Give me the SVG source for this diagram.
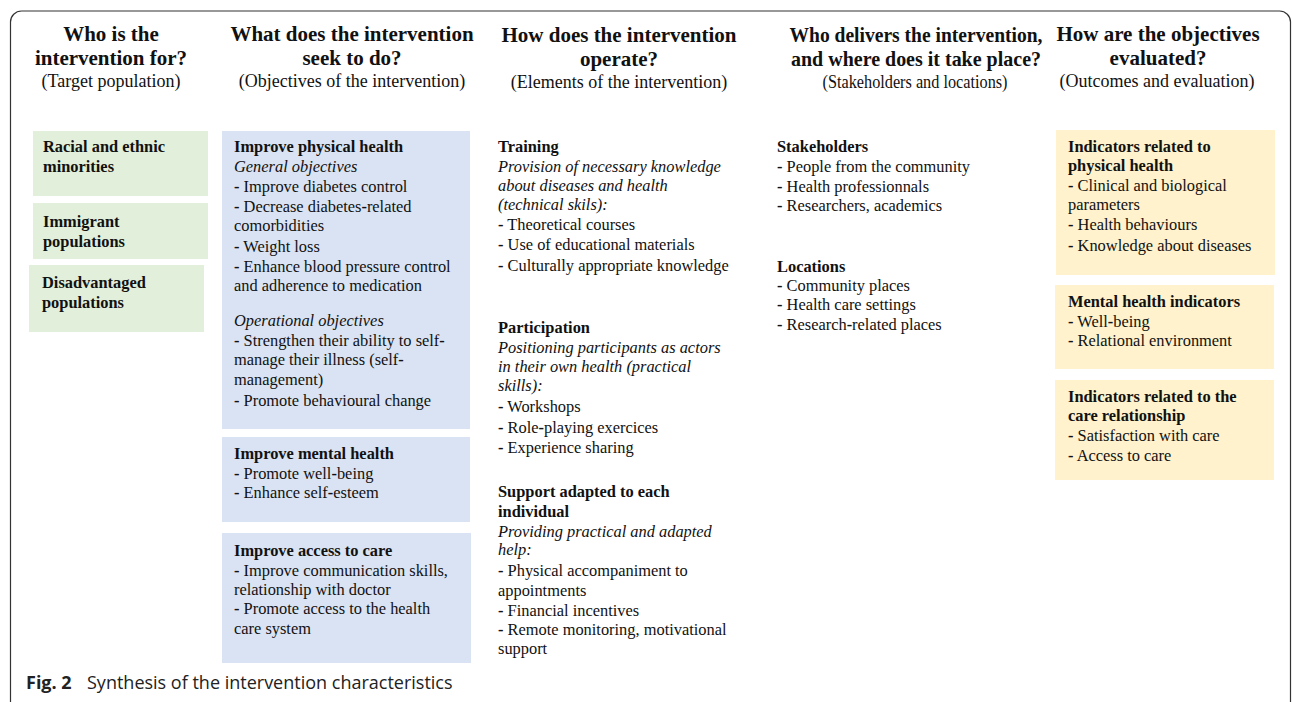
<svg xmlns="http://www.w3.org/2000/svg" width="1292" height="702" viewBox="0 0 1292 702">
<style>
  text { font-family: "Liberation Serif", "Times New Roman", serif; fill: #111; }
  .h { font-size: 21px; font-weight: bold; text-anchor: middle; }
  .s { font-size: 18px; text-anchor: middle; }
  .t { font-size: 16.4px; }
  .b { font-weight: bold; }
  .i { font-style: italic; }
  .green { fill: #e2efda; }
  .blue { fill: #dae3f3; }
  .yellow { fill: #fff2cc; }
  .cap { font-family: "Open Sans", "Noto Sans", sans-serif; font-size: 18px; fill: #222; }
</style>
<rect x="10.5" y="11" width="1280" height="720" rx="11" fill="none" stroke="#333" stroke-width="1.2"/>

<g id="headers">
  <text class="h" x="111" y="41">Who is the</text>
  <text class="h" x="111" y="65">intervention for?</text>
  <text class="s" x="111" y="87">(Target population)</text>
  <text class="h" x="352" y="41">What does the intervention</text>
  <text class="h" x="352" y="65">seek to do?</text>
  <text class="s" x="352" y="87">(Objectives of the intervention)</text>
  <text class="h" x="619" y="42">How does the intervention</text>
  <text class="h" x="619" y="66">operate?</text>
  <text class="s" x="619" y="88">(Elements of the intervention)</text>
  <text class="h" x="916" y="42" textLength="253" lengthAdjust="spacingAndGlyphs">Who delivers the intervention,</text>
  <text class="h" x="916" y="66" textLength="250" lengthAdjust="spacingAndGlyphs">and where does it take place?</text>
  <text class="s" x="915" y="88" textLength="185" lengthAdjust="spacingAndGlyphs">(Stakeholders and locations)</text>
  <text class="h" x="1158" y="41">How are the objectives</text>
  <text class="h" x="1158" y="65">evaluated?</text>
  <text class="s" x="1157" y="87">(Outcomes and evaluation)</text>
</g>

<g id="target-racial">
  <rect class="green" x="33" y="131" width="175" height="65"/>
  <text class="t b" x="43" y="152">Racial and ethnic</text>
  <text class="t b" x="43" y="172">minorities</text>
</g>
<g id="target-immigrant">
  <rect class="green" x="33" y="203" width="175" height="56"/>
  <text class="t b" x="43" y="227">Immigrant</text>
  <text class="t b" x="43" y="247">populations</text>
</g>
<g id="target-disadvantaged">
  <rect class="green" x="29" y="265" width="175" height="67"/>
  <text class="t b" x="42" y="288">Disadvantaged</text>
  <text class="t b" x="42" y="308">populations</text>
</g>

<g id="objective-physical">
  <rect class="blue" x="222" y="131" width="248" height="298"/>
  <text class="t b" x="234" y="152">Improve physical health</text>
  <text class="t i" x="234" y="172">General objectives</text>
  <text class="t" x="234" y="192"><tspan class="b">-</tspan> Improve diabetes control</text>
  <text class="t" x="234" y="212"><tspan class="b">-</tspan> Decrease diabetes<tspan class="b">-</tspan>related</text>
  <text class="t" x="234" y="231">comorbidities</text>
  <text class="t" x="234" y="252"><tspan class="b">-</tspan> Weight loss</text>
  <text class="t" x="234" y="272"><tspan class="b">-</tspan> Enhance blood pressure control</text>
  <text class="t" x="234" y="291">and adherence to medication</text>
  <text class="t i" x="234" y="326">Operational objectives</text>
  <text class="t" x="234" y="346"><tspan class="b">-</tspan> Strengthen their ability to self<tspan class="b">-</tspan></text>
  <text class="t" x="234" y="365">manage their illness (self<tspan class="b">-</tspan></text>
  <text class="t" x="234" y="385">management)</text>
  <text class="t" x="234" y="406"><tspan class="b">-</tspan> Promote behavioural change</text>
</g>
<g id="objective-mental">
  <rect class="blue" x="222" y="437" width="248" height="85"/>
  <text class="t b" x="234" y="459">Improve mental health</text>
  <text class="t" x="234" y="479"><tspan class="b">-</tspan> Promote well<tspan class="b">-</tspan>being</text>
  <text class="t" x="234" y="498"><tspan class="b">-</tspan> Enhance self<tspan class="b">-</tspan>esteem</text>
</g>
<g id="objective-access">
  <rect class="blue" x="222" y="533" width="249" height="130"/>
  <text class="t b" x="234" y="556">Improve access to care</text>
  <text class="t" x="234" y="576"><tspan class="b">-</tspan> Improve communication skills,</text>
  <text class="t" x="234" y="595">relationship with doctor</text>
  <text class="t" x="234" y="614"><tspan class="b">-</tspan> Promote access to the health</text>
  <text class="t" x="234" y="634">care system</text>
</g>

<g id="element-training">
  <text class="t b" x="498" y="152">Training</text>
  <text class="t i" x="498" y="172">Provision of necessary knowledge</text>
  <text class="t i" x="498" y="191">about diseases and health</text>
  <text class="t i" x="498" y="210">(technical skils):</text>
  <text class="t" x="498" y="230"><tspan class="b">-</tspan> Theoretical courses</text>
  <text class="t" x="498" y="250"><tspan class="b">-</tspan> Use of educational materials</text>
  <text class="t" x="498" y="271"><tspan class="b">-</tspan> Culturally appropriate knowledge</text>
</g>
<g id="element-participation">
  <text class="t b" x="498" y="333">Participation</text>
  <text class="t i" x="498" y="353">Positioning participants as actors</text>
  <text class="t i" x="498" y="372">in their own health (practical</text>
  <text class="t i" x="498" y="391">skills):</text>
  <text class="t" x="498" y="412"><tspan class="b">-</tspan> Workshops</text>
  <text class="t" x="498" y="433"><tspan class="b">-</tspan> Role<tspan class="b">-</tspan>playing exercices</text>
  <text class="t" x="498" y="453"><tspan class="b">-</tspan> Experience sharing</text>
</g>
<g id="element-support">
  <text class="t b" x="498" y="497">Support adapted to each</text>
  <text class="t b" x="498" y="517">individual</text>
  <text class="t i" x="498" y="537">Providing practical and adapted</text>
  <text class="t i" x="498" y="555">help:</text>
  <text class="t" x="498" y="576"><tspan class="b">-</tspan> Physical accompaniment to</text>
  <text class="t" x="498" y="596">appointments</text>
  <text class="t" x="498" y="616"><tspan class="b">-</tspan> Financial incentives</text>
  <text class="t" x="498" y="635"><tspan class="b">-</tspan> Remote monitoring, motivational</text>
  <text class="t" x="498" y="654">support</text>
</g>

<g id="stakeholders">
  <text class="t b" x="777" y="152">Stakeholders</text>
  <text class="t" x="777" y="172"><tspan class="b">-</tspan> People from the community</text>
  <text class="t" x="777" y="192"><tspan class="b">-</tspan> Health professionnals</text>
  <text class="t" x="777" y="211"><tspan class="b">-</tspan> Researchers, academics</text>
</g>
<g id="locations">
  <text class="t b" x="777" y="272">Locations</text>
  <text class="t" x="777" y="291"><tspan class="b">-</tspan> Community places</text>
  <text class="t" x="777" y="310"><tspan class="b">-</tspan> Health care settings</text>
  <text class="t" x="777" y="330"><tspan class="b">-</tspan> Research<tspan class="b">-</tspan>related places</text>
</g>

<g id="outcome-physical">
  <rect class="yellow" x="1056" y="130" width="219" height="145"/>
  <text class="t b" x="1068" y="152">Indicators related to</text>
  <text class="t b" x="1068" y="171">physical health</text>
  <text class="t" x="1068" y="191"><tspan class="b">-</tspan> Clinical and biological</text>
  <text class="t" x="1068" y="210">parameters</text>
  <text class="t" x="1068" y="230"><tspan class="b">-</tspan> Health behaviours</text>
  <text class="t" x="1068" y="251"><tspan class="b">-</tspan> Knowledge about diseases</text>
</g>
<g id="outcome-mental">
  <rect class="yellow" x="1055" y="285" width="219" height="84"/>
  <text class="t b" x="1068" y="307">Mental health indicators</text>
  <text class="t" x="1068" y="327"><tspan class="b">-</tspan> Well<tspan class="b">-</tspan>being</text>
  <text class="t" x="1068" y="346"><tspan class="b">-</tspan> Relational environment</text>
</g>
<g id="outcome-care">
  <rect class="yellow" x="1055" y="380" width="219" height="100"/>
  <text class="t b" x="1068" y="402">Indicators related to the</text>
  <text class="t b" x="1068" y="421">care relationship</text>
  <text class="t" x="1068" y="441"><tspan class="b">-</tspan> Satisfaction with care</text>
  <text class="t" x="1068" y="461"><tspan class="b">-</tspan> Access to care</text>
</g>

<g id="caption">
  <text class="cap" x="26" y="689"><tspan font-weight="bold">Fig. 2</tspan><tspan x="87">Synthesis of the intervention characteristics</tspan></text>
</g>
</svg>
